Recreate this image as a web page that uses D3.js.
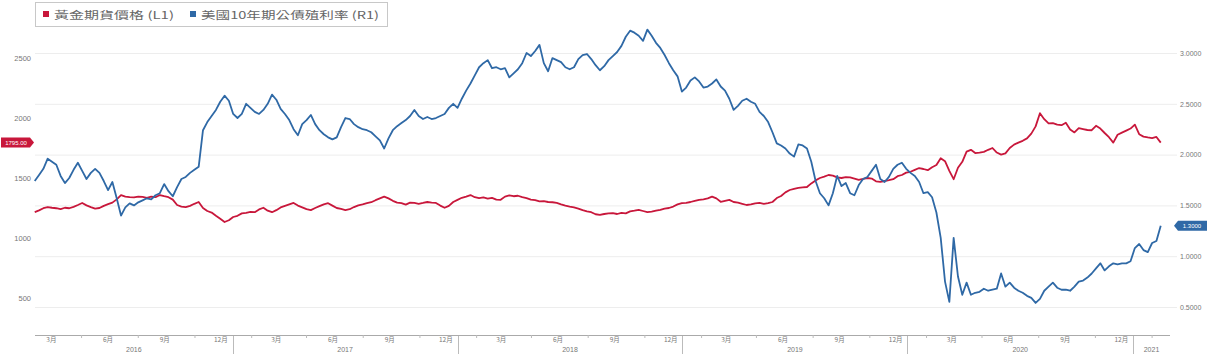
<!DOCTYPE html>
<html>
<head>
<meta charset="utf-8">
<script src="https://cdn.jsdelivr.net/npm/d3@7"></script>
<style>
  body { margin: 0; background: #fff; }
  svg { display: block; }
  .tick text { font-family: "Liberation Sans", Arial, sans-serif; }
</style>
</head>
<body>
<svg id="chart"></svg>
<script>
// weekly closes, starting 2016-02-15
let gold = [
  1215,1230,1248,1258,1252,1248,1240,1252,1248,1260,
  1275,1292,1272,1258,1245,1250,1268,1282,1295,1322,
  1358,1345,1340,1338,1345,1342,1335,1345,1340,1358,
  1348,1340,1320,1275,1262,1258,1268,1285,1300,1250,
  1225,1212,1185,1160,1133,1148,1175,1185,1205,1210,
  1218,1215,1238,1252,1228,1215,1232,1255,1268,1280,
  1292,1270,1255,1240,1232,1250,1265,1280,1290,1270,
  1250,1242,1233,1240,1258,1272,1280,1290,1298,1315,
  1330,1345,1330,1310,1295,1290,1278,1295,1292,1285,
  1292,1300,1295,1292,1270,1252,1268,1300,1318,1335,
  1345,1358,1340,1332,1338,1328,1335,1320,1318,1345,
  1355,1348,1352,1340,1332,1320,1315,1305,1308,1300,
  1298,1292,1280,1270,1262,1255,1245,1232,1222,1215,
  1198,1192,1200,1205,1208,1200,1210,1205,1222,1228,
  1235,1225,1215,1220,1228,1235,1245,1250,1262,1280,
  1290,1292,1300,1310,1318,1322,1330,1345,1330,1302,
  1310,1318,1300,1295,1285,1275,1280,1288,1292,1285,
  1290,1300,1333,1350,1380,1400,1410,1418,1422,1425,
  1455,1480,1500,1512,1525,1520,1505,1500,1508,1505,
  1495,1485,1492,1500,1495,1472,1467,1475,1482,1490,
  1515,1525,1545,1552,1568,1583,1575,1565,1590,1608,
  1665,1640,1560,1490,1585,1635,1720,1735,1708,1712,
  1718,1735,1750,1712,1695,1705,1750,1778,1795,1810,
  1830,1870,1930,2040,1990,1955,1958,1945,1940,1960,
  1905,1880,1915,1908,1900,1898,1935,1912,1875,1840,
  1795,1860,1878,1895,1912,1945,1865,1845,1838,1832,
  1842,1795
]

let yield10 = [
  1.74,1.80,1.86,1.96,1.93,1.90,1.79,1.72,1.77,1.85,
  1.92,1.84,1.76,1.82,1.86,1.82,1.74,1.65,1.73,1.57,
  1.40,1.48,1.52,1.50,1.53,1.55,1.57,1.56,1.60,1.62,
  1.71,1.64,1.59,1.68,1.76,1.78,1.82,1.85,1.88,2.24,
  2.32,2.38,2.44,2.52,2.58,2.53,2.40,2.36,2.40,2.50,
  2.46,2.42,2.40,2.44,2.50,2.59,2.54,2.45,2.40,2.34,
  2.25,2.19,2.30,2.34,2.39,2.30,2.24,2.20,2.17,2.15,
  2.17,2.27,2.36,2.35,2.30,2.27,2.25,2.24,2.22,2.18,
  2.14,2.06,2.16,2.24,2.28,2.31,2.34,2.38,2.44,2.38,
  2.35,2.37,2.35,2.36,2.38,2.40,2.46,2.50,2.46,2.55,
  2.63,2.70,2.78,2.86,2.90,2.93,2.85,2.86,2.84,2.85,
  2.76,2.80,2.84,2.90,3.00,2.97,3.02,3.08,2.90,2.82,
  2.95,2.93,2.91,2.86,2.84,2.86,2.94,2.98,2.99,2.94,
  2.88,2.83,2.87,2.93,2.97,3.01,3.07,3.16,3.22,3.20,
  3.17,3.12,3.23,3.17,3.10,3.05,2.98,2.90,2.83,2.77,
  2.62,2.66,2.73,2.76,2.72,2.66,2.67,2.70,2.74,2.67,
  2.63,2.55,2.44,2.48,2.53,2.55,2.52,2.50,2.42,2.38,
  2.32,2.22,2.11,2.09,2.06,2.01,1.98,2.10,2.09,2.06,
  1.93,1.74,1.62,1.57,1.50,1.62,1.79,1.69,1.72,1.62,
  1.60,1.70,1.76,1.78,1.84,1.90,1.76,1.73,1.78,1.86,
  1.90,1.92,1.86,1.82,1.79,1.73,1.62,1.63,1.58,1.43,
  1.18,0.75,0.55,1.18,0.80,0.62,0.74,0.62,0.64,0.65,
  0.68,0.66,0.67,0.68,0.83,0.70,0.74,0.69,0.66,0.64,
  0.61,0.59,0.54,0.58,0.66,0.70,0.74,0.69,0.67,0.67,
  0.66,0.70,0.75,0.76,0.79,0.83,0.88,0.93,0.86,0.90,
  0.93,0.92,0.93,0.93,0.95,1.08,1.12,1.06,1.04,1.13,
  1.15,1.30
]

let leftTicks = [500, 1000, 1500, 2000, 2500]
let rightTicks = [0.5, 1.0, 1.5, 2.0, 2.5, 3.0]
let years = [2016, 2017, 2018, 2019, 2020, 2021]
let legendNames = ['黃金期貨價格 (L1)', '美國10年期公債殖利率 (R1)']

let W = 1208, H = 354
let red = '#c8173b', blue = '#2f69a6'
let plotL = 35, plotR = 1170, axisY = 335

let svg = d3.select('#chart').attr('width', W).attr('height', H)

let start = new Date(2016, 1, 15)
let dates = gold.map((d, i) => d3.timeDay.offset(start, i * 7))

let x = d3.scaleTime()
    .domain([new Date(2016, 0, 1), new Date(2021, 0, 1)])
    .range([7, 1133])
let yL = d3.scaleLinear().domain([500, 2500]).range([298, 58])
let yR = d3.scaleLinear().domain([0.5, 3.0]).range([307, 53])

// grid
svg.append('g').selectAll('line')
    .data(rightTicks)
    .enter().append('line')
    .attr('x1', plotL).attr('x2', plotR + 7)
    .attr('y1', d => yR(d) + 0.5).attr('y2', d => yR(d) + 0.5)
    .attr('stroke', '#ededed')

// left axis
let axL = svg.append('g')
    .attr('transform', `translate(31,0)`)
    .call(d3.axisLeft(yL).tickValues(leftTicks).tickSize(0).tickPadding(0).tickFormat(d3.format('d')))
axL.select('.domain').remove()
axL.selectAll('text').attr('fill', '#777').attr('font-size', 7.5)

// right axis
let axR = svg.append('g')
    .attr('transform', `translate(1180,0)`)
    .call(d3.axisRight(yR).tickValues(rightTicks).tickSize(0).tickPadding(0).tickFormat(d3.format('.4f')))
axR.select('.domain').remove()
axR.selectAll('text').attr('fill', '#777').attr('font-size', 7)

// bottom axis
let bottom = svg.append('g')
bottom.append('line')
    .attr('x1', plotL).attr('x2', plotR)
    .attr('y1', axisY + 0.5).attr('y2', axisY + 0.5)
    .attr('stroke', '#aaa')

let labelMonths = d3.timeMonth.range(new Date(2016, 2, 1), new Date(2021, 0, 1), 3)
bottom.selectAll('.mlab')
    .data(labelMonths)
    .enter().append('text')
    .attr('class', 'mlab')
    .attr('x', d => x(d3.timeDay.offset(d, 12)))
    .attr('y', axisY + 7)
    .attr('text-anchor', 'middle')
    .attr('font-size', 6.5)
    .attr('font-family', '"Noto Sans CJK TC", sans-serif')
    .attr('fill', '#777')
    .text(d => (d.getMonth() + 1) + '月')

let minorMonths = d3.timeMonth.range(new Date(2016, 1, 1), new Date(2021, 2, 1), 3)
    .filter(d => x(d) > plotL && x(d) < plotR)
bottom.selectAll('.mtick')
    .data(minorMonths)
    .enter().append('line')
    .attr('x1', d => x(d)).attr('x2', d => x(d))
    .attr('y1', axisY).attr('y2', axisY + 3)
    .attr('stroke', '#bbb')

bottom.selectAll('.ydiv')
    .data(years.slice(1))
    .enter().append('line')
    .attr('x1', d => Math.round(x(new Date(d, 0, 1))) + 0.5)
    .attr('x2', d => Math.round(x(new Date(d, 0, 1))) + 0.5)
    .attr('y1', axisY + 1).attr('y2', H)
    .attr('stroke', '#bbb')

bottom.selectAll('.ylab')
    .data(years)
    .enter().append('text')
    .attr('x', d => (Math.max(plotL, x(new Date(d, 0, 1))) + Math.min(plotR, x(new Date(d + 1, 0, 1)))) / 2)
    .attr('y', axisY + 17)
    .attr('text-anchor', 'middle')
    .attr('font-size', 7)
    .attr('font-family', '"Liberation Sans", Arial, sans-serif')
    .attr('fill', '#777')
    .text(d => d)

// lines
let goldLine = d3.line().x((d, i) => x(dates[i])).y(d => yL(d))
let yieldLine = d3.line().x((d, i) => x(dates[i])).y(d => yR(d))

svg.append('path')
    .datum(gold)
    .attr('d', goldLine)
    .attr('fill', 'none')
    .attr('stroke', red)
    .attr('stroke-width', 1.8)
    .attr('stroke-linejoin', 'round')

svg.append('path')
    .datum(yield10)
    .attr('d', yieldLine)
    .attr('fill', 'none')
    .attr('stroke', blue)
    .attr('stroke-width', 1.8)
    .attr('stroke-linejoin', 'round')

// last value tags
let lastGold = gold[gold.length - 1]
let gy = yL(lastGold)
svg.append('path')
    .attr('d', `M1,${gy - 5} H30 L34,${gy} L30,${gy + 5} H1 Z`)
    .attr('fill', red)
svg.append('text')
    .attr('x', 16).attr('y', gy + 2)
    .attr('text-anchor', 'middle')
    .attr('font-size', 6)
    .attr('font-family', '"Liberation Sans", Arial, sans-serif')
    .attr('fill', '#fff')
    .text(d3.format('.2f')(lastGold))

let lastYield = yield10[yield10.length - 1]
let by = yR(lastYield)
svg.append('path')
    .attr('d', `M1174,${by} L1178,${by - 5} H1207 V${by + 5} H1178 Z`)
    .attr('fill', blue)
svg.append('text')
    .attr('x', 1192).attr('y', by + 2)
    .attr('text-anchor', 'middle')
    .attr('font-size', 6)
    .attr('font-family', '"Liberation Sans", Arial, sans-serif')
    .attr('fill', '#fff')
    .text(d3.format('.4f')(lastYield))

// legend
let legend = svg.append('g')
legend.append('rect')
    .attr('x', 35.5).attr('y', 2.5)
    .attr('width', 352).attr('height', 24)
    .attr('fill', '#fff')
    .attr('stroke', '#c8c8c8')

let legendX = [43, 190]
let legendW = [120, 178]
let legendC = [red, blue]
legendNames.forEach((name, i) => {
    legend.append('rect')
        .attr('x', legendX[i]).attr('y', 11)
        .attr('width', 6).attr('height', 6)
        .attr('fill', legendC[i])
    legend.append('text')
        .attr('x', legendX[i] + 11).attr('y', 18.5)
        .attr('font-size', 10.5)
        .attr('font-family', '"Noto Sans CJK TC", sans-serif')
        .attr('fill', '#666')
        .attr('textLength', legendW[i])
        .attr('lengthAdjust', 'spacingAndGlyphs')
        .text(name)
})
</script>
</body>
</html>
